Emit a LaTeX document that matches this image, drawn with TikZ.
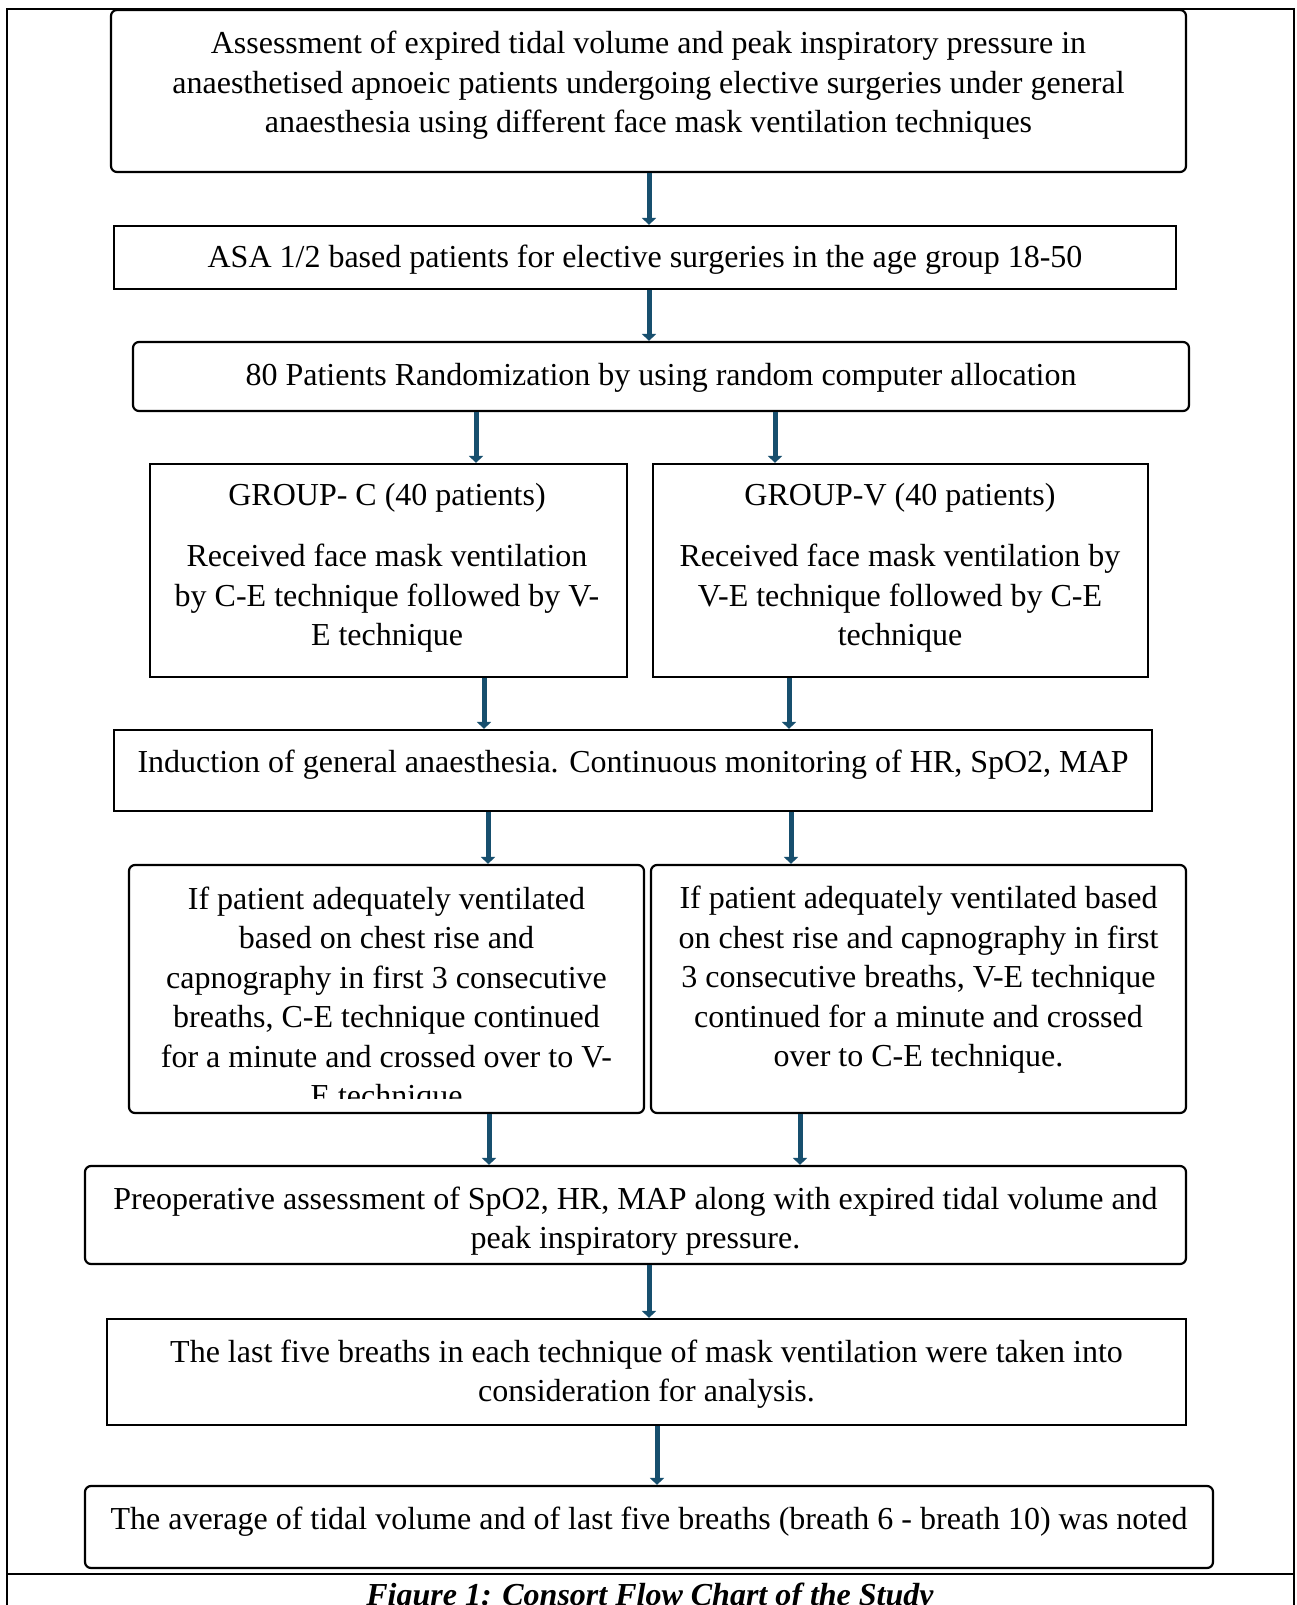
\documentclass[tikz,border=0pt]{standalone}
\usepackage{fontspec}
\setmainfont{Liberation Serif}
\usetikzlibrary{arrows.meta}
\definecolor{arrowc}{HTML}{174F6E}
\begin{document}
\begin{tikzpicture}[x=1pt,y=-1pt,
  box/.style={draw=black,line width=2.2pt,inner sep=0pt,fill=none},
  rbox/.style={box,rounded corners=6pt},
  txt/.style={font=\fontsize{32}{39.5}\selectfont,align=center,inner sep=0pt},
  captxt/.style={font=\fontsize{32}{39.5}\selectfont\bfseries\itshape,inner sep=0pt},
  arr/.style={draw=arrowc,line width=5pt,-{Triangle[width=14pt,length=7pt]}},
  frameline/.style={draw=black,line width=2pt}]
\useasboundingbox (0,0) rectangle (1296,1605);
\clip (0,0) rectangle (1296,1605);
\fill[white] (0,0) rectangle (1296,1605);
% outer frame
\draw[frameline] (7,1605) -- (7,9) -- (1294,9) -- (1294,1605);
\draw[frameline] (7,1574) -- (1294,1574);
% boxes
\node[rbox,minimum width=1075pt,minimum height=162pt] (top) at (648.5,91) {};
\node[box,minimum width=1062pt,minimum height=63pt] (asa) at (645,257.5) {};
\node[rbox,minimum width=1056pt,minimum height=69pt] (rand) at (661,376.5) {};
\node[box,minimum width=477pt,minimum height=213pt] (gc) at (388.5,570.5) {};
\node[box,minimum width=495pt,minimum height=213pt] (gv) at (900.5,570.5) {};
\node[box,minimum width=1038pt,minimum height=81pt] (ind) at (633,770.5) {};
\node[rbox,minimum width=515pt,minimum height=248pt] (la) at (386.5,989) {};
\node[rbox,minimum width=535pt,minimum height=248pt] (ra) at (918.5,989) {};
\node[rbox,minimum width=1101pt,minimum height=98pt] (pre) at (635.5,1215) {};
\node[box,minimum width=1079pt,minimum height=106pt] (last) at (646.5,1372) {};
\node[rbox,minimum width=1128pt,minimum height=82pt] (avg) at (649,1527) {};
% texts
\node[txt] (ttop) at (648.5,85.5) {Assessment of expired tidal volume and peak inspiratory pressure in\\anaesthetised apnoeic patients undergoing elective surgeries under general\\anaesthesia using different face mask ventilation techniques};
\node[txt] (tasa) at (645,260) {ASA 1/2 based patients for elective surgeries in the age group 18-50};
\node[txt] (trand) at (661,378) {80 Patients Randomization by using random computer allocation};
\node[txt] (tgc1) at (387,498) {GROUP- C (40 patients)};
\node[txt] (tgc2) at (387,598.5) {Received face mask ventilation\\by C-E technique followed by V-\\E technique};
\node[txt] (tgv1) at (900,498) {GROUP-V (40 patients)};
\node[txt] (tgv2) at (900,598.5) {Received face mask ventilation by\\V-E technique followed by C-E\\technique};
\node[txt] (tind) at (633,765) {Induction of general anaesthesia. Continuous monitoring of HR, SpO2, MAP};
\begin{scope}
\clip (129,865) rectangle (644,1098);
\node[txt] (tla) at (386.5,1000) {If patient adequately ventilated\\based on chest rise and\\capnography in first 3 consecutive\\breaths, C-E technique continued\\for a minute and crossed over to V-\\E technique};
\end{scope}
\node[txt] (tra) at (918.5,980) {If patient adequately ventilated based\\on chest rise and capnography in first\\3 consecutive breaths, V-E technique\\continued for a minute and crossed\\over to C-E technique.};
\node[txt] (tpre) at (635.5,1221) {Preoperative assessment of SpO2, HR, MAP along with expired tidal volume and\\peak inspiratory pressure.};
\node[txt] (tlast) at (646.5,1374) {The last five breaths in each technique of mask ventilation were taken into\\consideration for analysis.};
\node[txt] (tavg) at (649,1522) {The average of tidal volume and of last five breaths (breath 6 - breath 10) was noted};
\node[captxt,anchor=base] (caption) at (650,1605) {Figure 1: Consort Flow Chart of the Study};
% arrow x positions
\coordinate (x1) at (649,0);
\coordinate (x2) at (476,0);
\coordinate (x3) at (775,0);
\coordinate (x4) at (484,0);
\coordinate (x5) at (789,0);
\coordinate (x6) at (488,0);
\coordinate (x7) at (791,0);
\coordinate (x8) at (489,0);
\coordinate (x9) at (800,0);
\coordinate (x10) at (657,0);
% arrows
\draw[arr] (top.south -| x1) -- (asa.north -| x1);
\draw[arr] (asa.south -| x1) -- (rand.north -| x1);
\draw[arr] (rand.south -| x2) -- (gc.north -| x2);
\draw[arr] (rand.south -| x3) -- (gv.north -| x3);
\draw[arr] (gc.south -| x4) -- (ind.north -| x4);
\draw[arr] (gv.south -| x5) -- (ind.north -| x5);
\draw[arr] (ind.south -| x6) -- (la.north -| x6);
\draw[arr] (ind.south -| x7) -- (ra.north -| x7);
\draw[arr] (la.south -| x8) -- (pre.north -| x8);
\draw[arr] (ra.south -| x9) -- (pre.north -| x9);
\draw[arr] (pre.south -| x1) -- (last.north -| x1);
\draw[arr] (last.south -| x10) -- (avg.north -| x10);
\end{tikzpicture}
\end{document}
